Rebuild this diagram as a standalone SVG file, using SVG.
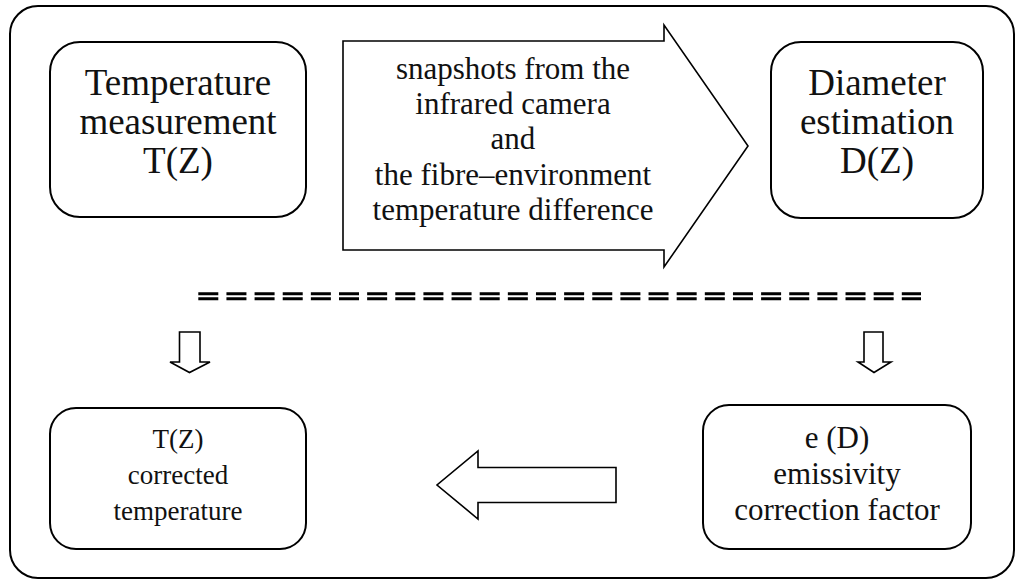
<svg xmlns="http://www.w3.org/2000/svg" width="1017" height="586" viewBox="0 0 1017 586">
  <style>
    .frame { fill: #ffffff; stroke: #000000; stroke-width: 2; }
    .box { fill: #ffffff; stroke: #000000; stroke-width: 2; }
    .arrow { fill: #ffffff; stroke: #000000; stroke-width: 1.6; stroke-linejoin: miter; }
    .sep { stroke: #000000; stroke-width: 3; stroke-dasharray: 20 8.14; fill: none; }
    text { font-family: "Liberation Serif", "Times New Roman", serif; fill: #111111; text-anchor: middle; }
    .big { font-size: 37px; }
    .mid { font-size: 31px; }
    .small { font-size: 27px; }
  </style>

  <!-- outer frame -->
  <rect class="frame" x="10" y="6" width="1004" height="572" rx="28" ry="28"/>

  <g id="temperature-measurement">
    <rect class="box" x="50" y="42" width="256" height="175" rx="30" ry="30"/>
    <text class="big" x="178" y="95">Temperature</text>
    <text class="big" x="178" y="134">measurement</text>
    <text class="big" x="178" y="173">T(Z)</text>
  </g>

  <g id="diameter-estimation">
    <rect class="box" x="771" y="42" width="212" height="176" rx="30" ry="30"/>
    <text class="big" x="877" y="95">Diameter</text>
    <text class="big" x="877" y="134">estimation</text>
    <text class="big" x="877" y="173">D(Z)</text>
  </g>

  <g id="corrected-temperature">
    <rect class="box" x="50" y="408" width="256" height="141" rx="26" ry="26"/>
    <text class="small" x="178" y="448">T(Z)</text>
    <text class="small" x="178" y="484">corrected</text>
    <text class="small" x="178" y="520">temperature</text>
  </g>

  <g id="emissivity-correction">
    <rect class="box" x="703" y="405" width="268" height="144" rx="26" ry="26"/>
    <text class="mid" x="837" y="448">e (D)</text>
    <text class="mid" x="837" y="484">emissivity</text>
    <text class="mid" x="837" y="520">correction factor</text>
  </g>

  <g id="connectors">
    <!-- data flow from camera snapshots into diameter estimation -->
    <g id="snapshot-arrow">
      <path class="arrow" d="M343,41 H664 V25 L748,146 L664,267 V250 H343 Z"/>
      <text class="mid" x="513" y="79">snapshots from the</text>
      <text class="mid" x="513" y="114">infrared camera</text>
      <text class="mid" x="513" y="149">and</text>
      <text class="mid" x="513" y="185">the fibre–environment</text>
      <text class="mid" x="513" y="220">temperature difference</text>
    </g>

    <!-- double dashed separator -->
    <line class="sep" x1="198.3" y1="293.8" x2="921" y2="293.8"/>
    <line class="sep" x1="198.3" y1="298.8" x2="921" y2="298.8"/>

    <!-- hollow down arrows -->
    <path class="arrow" d="M179.5,332 H200 V362 H210 L189.5,372.5 L170,362 H179.5 Z"/>
    <path class="arrow" d="M864,332 H883 V362 H891 L874,372.5 L858,362 H864 Z"/>

    <!-- hollow left arrow -->
    <path class="arrow" d="M616,467.5 V502.5 H478 V519 L437,485 L478,451 V467.5 Z"/>
  </g>
</svg>
